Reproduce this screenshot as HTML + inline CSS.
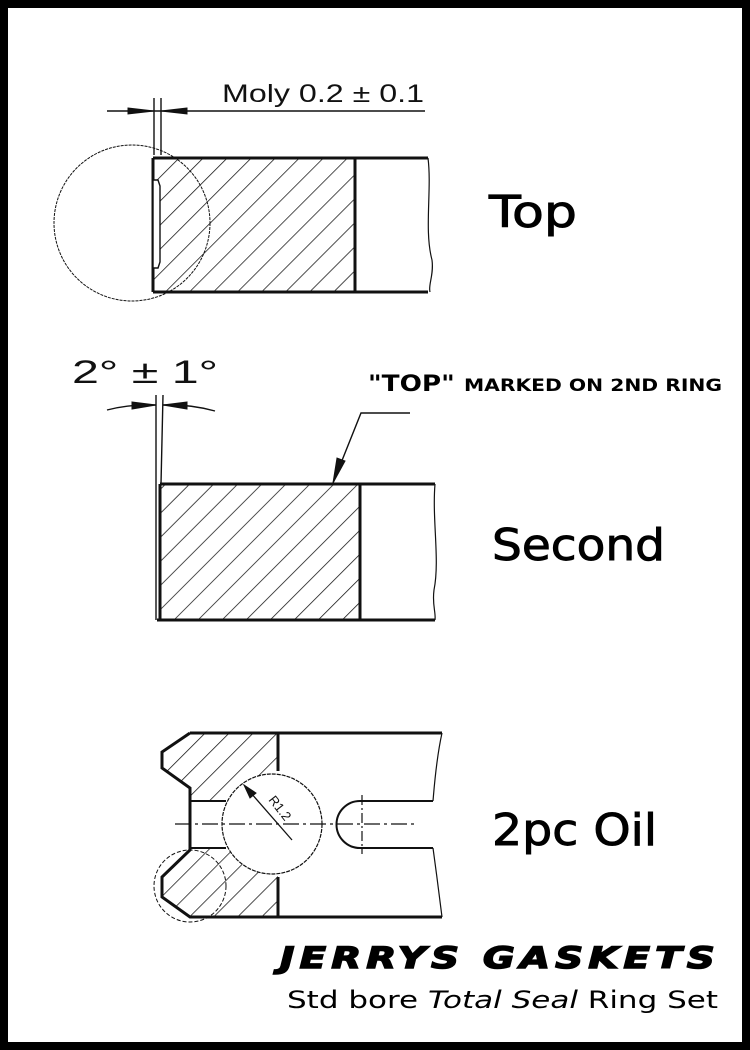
<!DOCTYPE html>
<html><head><meta charset="utf-8"><style>
html,body{margin:0;padding:0;background:#000}
svg{display:block}
</style></head><body>
<svg width="750" height="1050" viewBox="0 0 750 1050" xmlns="http://www.w3.org/2000/svg">
<defs>
<pattern id="h" patternUnits="userSpaceOnUse" width="17" height="17" patternTransform="rotate(45)">
<line x1="0" y1="0" x2="0" y2="17" stroke="#111" stroke-width="1.5"/>
</pattern>
</defs>
<rect x="0" y="0" width="750" height="1050" fill="#000"/>
<rect x="8" y="8" width="734" height="1034" fill="#fff"/>
<g fill="none" stroke="#111">
<rect x="153" y="158" width="202" height="134" fill="url(#h)" stroke="none"/>
<path d="M153,158 H428 M153,292 H428 M153,158 V292 M355,158 V292" stroke-width="3"/>
<path d="M428,158 C432,190 424,230 432,260 C434,275 428,285 430,292" stroke-width="1.2"/>
<path d="M153,180 L158,180 L160,186 L160,262 L158,268 L153,268 Z" fill="#fff" stroke-width="1.4"/>
<circle cx="132" cy="223" r="78" stroke-width="1" stroke-dasharray="3,1"/>
<path d="M107,111 H425 M154,98 V155 M161,98 V155" stroke-width="1.4"/>
<path d="M128,108 L154,111 L128,114 Z M187,108 L161,111 L187,114 Z" fill="#111"/>
<rect x="160" y="484" width="200" height="136" fill="url(#h)" stroke="none"/>
<path d="M160,484 H435 M157,620 H435 M160,484 V620 M360,484 V620" stroke-width="3"/>
<path d="M435,484 C432,520 440,560 434,590 C432,605 436,612 435,620" stroke-width="1.2"/>
<path d="M156,395 V620 M163,395 L161,484" stroke-width="1.4"/>
<path d="M107,410 Q130,404 156,405 M163,405 Q190,404 215,411" stroke-width="1.4"/>
<path d="M132,402 L156,405 L132,409 Z M187,402 L163,405 L187,409 Z" fill="#111"/>
<path d="M410,413 H361 L333,483" stroke-width="1.4"/>
<path d="M333,483 L337,458 L345,461 Z" fill="#111"/>
<path d="M190,733 L278,733 L278,917 L190,917 L162,897 L162,877 L190,850 L190,788 L162,768 L162,752 Z" fill="url(#h)" stroke="none"/>
<rect x="185" y="801" width="60" height="47" fill="#fff" stroke="none"/>
<circle cx="272" cy="824" r="50" fill="#fff" stroke-width="1.2" stroke-dasharray="4,1"/>
<path d="M190,733 L162,752 L162,768 L190,788 V850 L162,877 L162,897 L190,917 H442 M190,733 H442 M278,733 V771 M278,877 V917" stroke-width="3"/>
<path d="M190,801 H226 M190,848 H226" stroke-width="2"/>
<path d="M360,801 H433 M360,848 H433" stroke-width="2"/>
<path d="M360,801 A23,23 0 0 0 360,848" stroke-width="2"/>
<path d="M362,795 V854" stroke-width="1.2" stroke-dasharray="10,3,2,3"/>
<path d="M442,733 C436,760 434,790 433,801 M433,848 C436,870 440,900 442,917" stroke-width="1.2"/>
<path d="M175,824 H415" stroke-width="1.2" stroke-dasharray="16,4,3,4"/>
<path d="M244,785 L292,840" stroke-width="1.3"/>
<path d="M244,785 L256,793 L250,798 Z" fill="#111"/>
<circle cx="190" cy="886" r="36" stroke-width="1" stroke-dasharray="4,2"/>
</g>
<text x="268" y="800" font-family="Liberation Sans, sans-serif" font-size="13" fill="#111" transform="rotate(52 268 800)">R1.2</text>
<g font-family="Liberation Sans, DejaVu Sans, sans-serif" fill="#111">
<text x="222" y="102" font-size="25" textLength="202" lengthAdjust="spacingAndGlyphs">Moly 0.2  ± 0.1</text>
<text x="72" y="383" font-size="32" textLength="146" lengthAdjust="spacingAndGlyphs">2°  ±  1°</text>
</g>
<g font-family="'DejaVu Sans', sans-serif" fill="#000">
<text x="368" y="391" font-size="22" font-weight="bold" textLength="354" lengthAdjust="spacingAndGlyphs">"TOP" <tspan font-size="17">MARKED ON 2ND RING</tspan></text>
<g stroke="#000" stroke-width="0.9">
<text x="489" y="227" font-size="44" textLength="88" lengthAdjust="spacingAndGlyphs">Top</text>
<text x="492" y="560" font-size="44" textLength="173" lengthAdjust="spacingAndGlyphs">Second</text>
<text x="492" y="845" font-size="44" textLength="165" lengthAdjust="spacingAndGlyphs">2pc Oil</text>
</g>
<text x="280" y="968" font-size="29" font-weight="bold" font-style="italic" stroke="#000" stroke-width="1.5" letter-spacing="4" textLength="440" lengthAdjust="spacingAndGlyphs">JERRYS GASKETS</text>
<text x="287" y="1008" font-size="24" textLength="431" lengthAdjust="spacingAndGlyphs">Std bore <tspan font-style="italic">Total Seal</tspan> Ring Set</text>
</g>
</svg>
</body></html>
